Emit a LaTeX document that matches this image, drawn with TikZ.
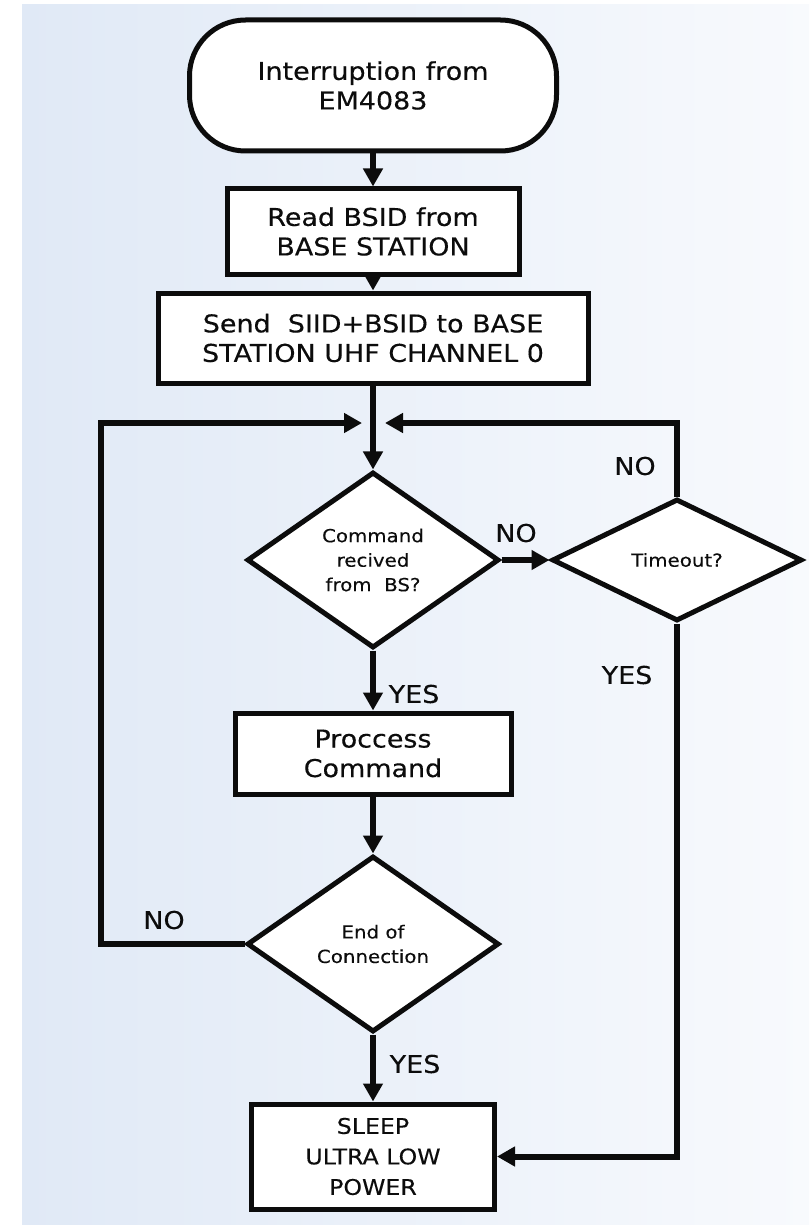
\documentclass[tikz,border=0pt]{standalone}
\usepackage{fontspec}
\setmainfont{DejaVu Sans}[FakeStretch=1.1,FakeBold=0.3]
\usetikzlibrary{arrows.meta,shapes.geometric}
\definecolor{bgL}{RGB}{224,233,246}
\definecolor{bgR}{RGB}{248,250,253}
\definecolor{ink}{RGB}{12,12,12}
\begin{document}
\begin{tikzpicture}[x=1pt,y=-1pt,
  box/.style={draw=ink,fill=white,line width=5pt,inner sep=0pt,align=center,
    font=\fontsize{24.5}{29.5}\selectfont,text=ink},
  dec/.style={draw=ink,fill=white,diamond,line width=5pt,inner sep=0pt,align=center,
    font=\fontsize{18}{24.5}\selectfont,text=ink},
  conn/.style={draw=ink,line width=6pt,-{Triangle[length=18pt,width=19pt]}},
  lbl/.style={font=\fontsize{24.5}{29.5}\selectfont,text=ink,inner sep=0pt}]
\fill[white] (0,0) rectangle (809,1225);
\shade[left color=bgL,right color=bgR] (22,5) rectangle (809,1225);
\useasboundingbox (0,0) rectangle (809,1225);

\node[box,rounded corners=56pt,minimum width=367pt,minimum height=131pt] (term) at (373,85.5) {\rule{0pt}{6pt}Interruption from\\EM4083};
\node[box,minimum width=292pt,minimum height=85pt] (read) at (373,231.5) {Read BSID from\\BASE STATION};
\node[box,minimum width=430pt,minimum height=90pt] (send) at (373,338) {Send \ SIID+BSID to BASE\\STATION UHF CHANNEL 0};
\node[dec,minimum width=252pt,minimum height=176pt] (d1) at (373,560) {Command\\recived\\from \ BS?};
\node[dec,minimum width=250pt,minimum height=122pt] (d2) at (677,560) {Timeout?};
\node[box,minimum width=276pt,minimum height=81pt] (proc) at (373,753.5) {Proccess\\Command};
\node[dec,minimum width=252pt,minimum height=176pt] (d3) at (373,944) {End of\\Connection};
\node[box,minimum width=243pt,minimum height=105pt,font=\fontsize{21.5}{30.5}\selectfont] (sleep) at (373,1156.5) {SLEEP\\ULTRA LOW\\POWER};

\coordinate (lc) at (101,423);
\coordinate (ltip) at (362,423);
\coordinate (rtip) at (385,423);

\draw[conn] (term) -- (read);
\draw[conn] (read) -- (send);
\draw[conn] (send) -- (d1);
\draw[conn] (d1.east) -- (d2.west);
\draw[conn] (d1.south) -- (proc.north);
\draw[conn] (proc) -- (d3);
\draw[conn] (d3.south) -- (sleep.north);
\draw[conn] (d3.west) -| (lc) -- (ltip);
\draw[conn] (d2.north) |- (rtip);
\draw[conn] (d2.south) |- (sleep.east);

\node[lbl] (no1) at (516,533) {NO};
\node[lbl] (no2) at (635,466) {NO};
\node[lbl] (yesR) at (627,675) {YES};
\node[lbl] (yes1) at (414,694) {YES};
\node[lbl] (no3) at (164,920) {NO};
\node[lbl] (yes2) at (415,1064) {YES};
\end{tikzpicture}
\end{document}
